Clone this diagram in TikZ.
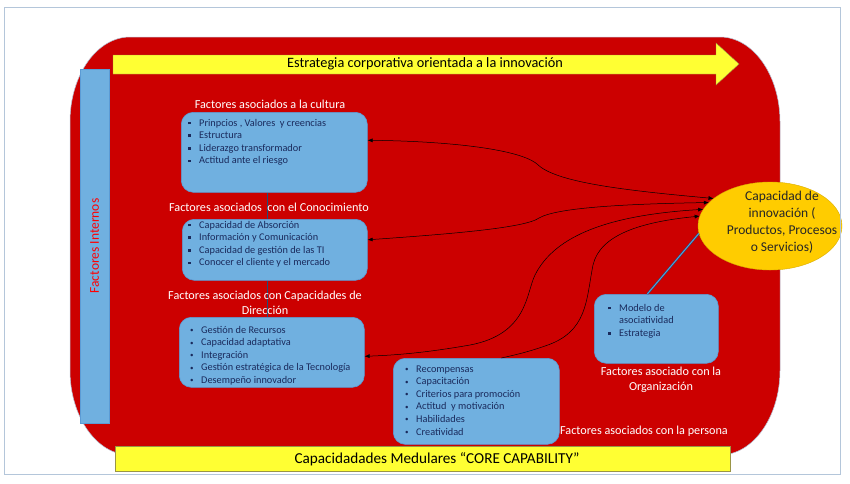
\documentclass[tikz,border=0pt]{standalone}
\usepackage{fontspec}
\setmainfont{Carlito}
\usepackage{tikz}
\usetikzlibrary{calc, shapes.geometric, arrows.meta}

\definecolor{rojo}{HTML}{CC0000}
\definecolor{celeste}{HTML}{70B0E0}
\definecolor{bordeceleste}{HTML}{5B9BD5}
\definecolor{amarillo}{HTML}{FFFF33}
\definecolor{oro}{HTML}{FFCC00}
\definecolor{marino}{HTML}{1A2A5C}
\definecolor{marco}{HTML}{B4C6DA}
\definecolor{tinta}{HTML}{1F4E79}

\tikzset{
	caja/.style={draw=bordeceleste, fill=celeste, rounded corners=12pt, line width=0.6pt, anchor=north west, inner sep=0pt},
	lista/.style={anchor=base west, inner sep=0pt, text=marino, font=\fontsize{10.3}{12.6}\selectfont},
	titulo/.style={text=white, font=\fontsize{12.2}{14.5}\selectfont, align=center, inner sep=0pt},
	barra/.style={draw=yellow!55!black, fill=amarillo, line width=0.4pt},
	enlace/.style={draw=black, line width=0.5pt, {Latex[length=5pt,width=4pt]}-{Latex[length=5pt,width=4pt]}},
	vinculo/.style={draw=tinta, line width=1pt},
}
\newcommand{\cuadro}{\makebox[11pt][l]{\rule[1.6pt]{2.6pt}{2.6pt}}}
\newcommand{\punto}{\makebox[11pt][l]{\raisebox{0.6pt}{\scriptsize\textbullet}}}
\newcommand{\renglones}[1]{\begin{tabular}[t]{@{}l@{}}#1\end{tabular}}

\begin{document}
\begin{tikzpicture}[x=1pt, y=-1pt]
	\useasboundingbox (0,0) rectangle (850,483);

% FONDO

	\fill[white] (0,0) rectangle (850,483);
	\draw[fill=rojo, draw=marco, line width=0.5pt] (130,37) -- (720,37)
		.. controls (753,37) and (780,75) .. (780,122) -- (780,370)
		.. controls (780,417) and (753,455) .. (720,455) -- (130,455)
		.. controls (97,455) and (70,417) .. (70,370) -- (70,122)
		.. controls (70,75) and (97,37) .. (130,37) -- cycle;

	% factores internos
	\node[draw=bordeceleste, fill=celeste, rotate=90, minimum width=354, minimum height=29, inner sep=0pt,
		text=red, font=\fontsize{13.5}{16}\selectfont] (internos) at (94.5,246) {Factores Internos};

	% flecha estrategia
	\draw[barra] (113,55) -- (716,55) -- (716,43) -- (739,64) -- (716,85) -- (716,74) -- (113,74) -- cycle;
	\node[font=\fontsize{14.3}{17}\selectfont] (estrategia) at (425,64) {Estrategia corporativa orientada a la innovación};

	% capacidades medulares
	\node[barra, minimum width=615, minimum height=25, inner sep=0pt] (core) at (422.5,458.5) {};
	\node[font=\fontsize{15.2}{18}\selectfont] (coretxt) at (437,459) {Capacidadades Medulares “CORE CAPABILITY”};

% CAJAS

	\node[caja, minimum width=186, minimum height=80] (cult) at (181,112) {};
	\node[caja, minimum width=185, minimum height=61] (know) at (182,219) {};
	\node[caja, minimum width=185, minimum height=70] (dir) at (179,317) {};
	\node[caja, minimum width=166, minimum height=86] (pers) at (393,358) {};
	\node[caja, minimum width=124, minimum height=69] (org) at (594,294) {};

	\draw[vinculo] ([xshift=-7pt]cult.south) -- ([xshift=-7.5pt]know.north);
	\draw[vinculo] ([xshift=-7.5pt]know.south) -- ([xshift=-4.5pt]dir.north);

	\node[lista] (cultlist) at (188,126) {\renglones{\cuadro Prinpcios , Valores~ y creencias\\\cuadro Estructura\\\cuadro Liderazgo transformador\\\cuadro Actitud ante el riesgo}};
	\node[lista] (knowlist) at (188,228) {\renglones{\cuadro Capacidad de Absorción\\\cuadro Información y Comunicación\\\cuadro Capacidad de gestión de las TI\\\cuadro Conocer el cliente y el mercado}};
	\node[lista] (dirlist) at (190,333) {\renglones{\punto Gestión de Recursos\\\punto Capacidad adaptativa\\\punto Integración\\\punto Gestión estratégica de la Tecnología\\\punto Desempeño innovador}};
	\node[lista] (perslist) at (405,372) {\renglones{\punto Recompensas\\\punto Capacitación\\\punto Criterios para promoción\\\punto Actitud~ y motivación\\\punto Habilidades\\\punto Creatividad}};
	\node[lista] (orglist) at (608,311) {\renglones{\cuadro Modelo de\\\makebox[11pt]{}asociatividad\\\cuadro Estrategia}};

% TITULOS

	\node[titulo] (culttit) at (270,104) {Factores asociados a la cultura};
	\node[titulo] (knowtit) at (269,207) {Factores asociados~ con el Conocimiento};
	\node[titulo] (dirtit) at (265,303) {Factores asociados con Capacidades de\\Dirección};
	\node[titulo] (orgtit) at (661,380) {Factores asociado con la\\Organización};
	\node[titulo] (perstit) at (644,431) {Factores asociados con la persona};

% CAPACIDAD DE INNOVACION

	\node[ellipse, fill=oro, draw=oro!85!black, line width=0.4pt, minimum width=144, minimum height=88] (cap) at (770,226) {};
	\node[align=center, inner sep=0pt, text=black!85, font=\fontsize{13.5}{17}\selectfont] (captxt) at (782,222)
		{Capacidad de\\innovación (\\Productos, Procesos\\o Servicios)};

	\draw[enlace] (cap.154) .. controls (620,190) and (555,182) .. (537,164)
		.. controls (518,148) and (440,141) .. ([yshift=12pt]cult.east);
	\draw[enlace] (cap.159) .. controls (620,204) and (556,208) .. (539,218)
		.. controls (525,228) and (450,234) .. ([yshift=10pt]know.east);
	\draw[enlace] (cap.166) .. controls (610,215) and (555,235) .. (535,275)
		.. controls (526,293) and (528,334) .. (470,345)
		.. controls (430,352) and (400,355) .. ([yshift=-4pt]dir.east);
	\draw[draw=black, line width=0.5pt, {Latex[length=5pt,width=4pt]}-] (cap.172) .. controls (640,222) and (600,235) .. (593,265)
		.. controls (586,300) and (588,332) .. (545,346)
		.. controls (525,353) and (510,356) .. ([xshift=25pt]pers.north);

	\draw[draw=tinta, double=bordeceleste, double distance=1pt, line width=0.5pt] ([xshift=-9pt]org.north) -- (cap.186);

% MARCO

	\draw[marco, line width=0.8pt] (4,7) rectangle (840,474);

\end{tikzpicture}
\end{document}
